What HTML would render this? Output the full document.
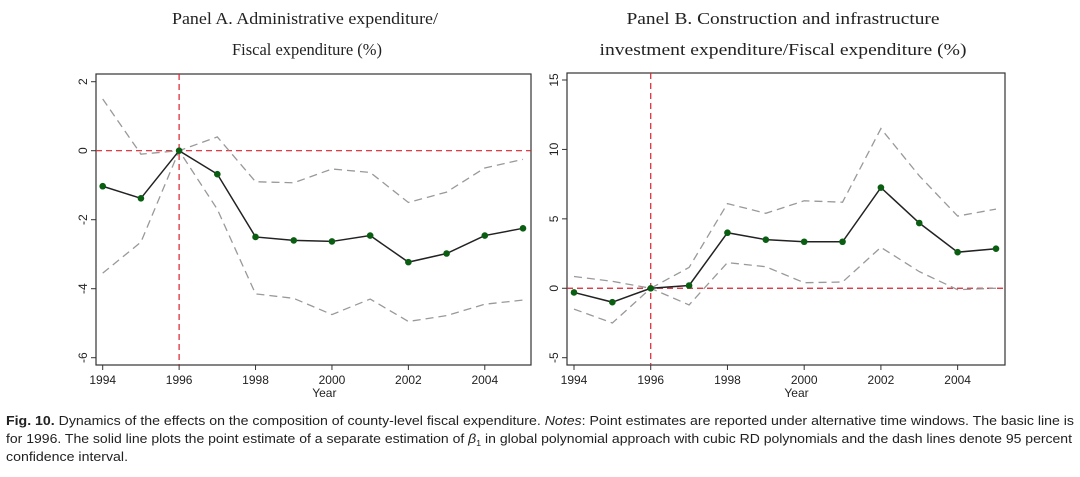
<!DOCTYPE html>
<html><head><meta charset="utf-8"><style>
html,body{margin:0;padding:0;background:#fff;width:1080px;height:477px;overflow:hidden}
svg{display:block}
</style></head><body>
<svg id="chart" width="1080" height="477" viewBox="0 0 1080 477" xmlns="http://www.w3.org/2000/svg">
<g font-family="Liberation Serif, serif" font-size="17" fill="#222">
<text x="305" y="24" text-anchor="middle" textLength="266" lengthAdjust="spacingAndGlyphs">Panel A. Administrative expenditure/</text>
<text x="307" y="55" text-anchor="middle" textLength="150" lengthAdjust="spacingAndGlyphs">Fiscal expenditure (%)</text>
<text x="783" y="24" text-anchor="middle" textLength="313" lengthAdjust="spacingAndGlyphs">Panel B. Construction and infrastructure</text>
<text x="783" y="55" text-anchor="middle" textLength="367" lengthAdjust="spacingAndGlyphs">investment expenditure/Fiscal expenditure (%)</text>
</g>
<g id="pa"></g>
<g id="pb"></g>
<g font-family="Liberation Sans, sans-serif" font-size="12.5" fill="#222">
<text x="6" y="425" textLength="1068" lengthAdjust="spacingAndGlyphs"><tspan font-weight="bold">Fig. 10.</tspan> Dynamics of the effects on the composition of county-level fiscal expenditure. <tspan font-style="italic">Notes</tspan>: Point estimates are reported under alternative time windows. The basic line is</text>
<text x="6" y="443" textLength="1066" lengthAdjust="spacingAndGlyphs">for 1996. The solid line plots the point estimate of a separate estimation of <tspan font-style="italic">β</tspan><tspan font-size="8" dy="3">1</tspan><tspan dy="-3"> in global polynomial approach with cubic RD polynomials and the dash lines denote 95 percent</tspan></text>
<text x="6" y="461" textLength="122" lengthAdjust="spacingAndGlyphs">confidence interval.</text>
</g>
</svg>
<script>
const years=[1994,1995,1996,1997,1998,1999,2000,2001,2002,2003,2004,2005];
const xTicks=[1994,1996,1998,2000,2002,2004];
const aEst=[-1.03,-1.38,0,-0.68,-2.5,-2.6,-2.63,-2.46,-3.23,-2.98,-2.46,-2.25];
const aUp=[1.5,-0.1,0,0.4,-0.9,-0.93,-0.53,-0.63,-1.5,-1.2,-0.5,-0.25];
const aLo=[-3.55,-2.65,0,-1.7,-4.15,-4.28,-4.75,-4.3,-4.95,-4.78,-4.45,-4.33];
const aTicks=[2,0,-2,-4,-6];
const bEst=[-0.3,-1,0,0.2,4,3.5,3.35,3.35,7.25,4.7,2.6,2.85];
const bUp=[0.85,0.5,0,1.5,6.1,5.4,6.3,6.2,11.5,8.1,5.2,5.7];
const bLo=[-1.5,-2.5,0,-1.2,1.85,1.55,0.4,0.45,2.95,1.2,-0.1,0];
const bTicks=[15,10,5,0,-5];
const NS="http://www.w3.org/2000/svg";
function mk(parent,tag,attrs){const e=document.createElementNS(NS,tag);for(const k in attrs)e.setAttribute(k,attrs[k]);parent.appendChild(e);return e;}
function panel(g,cfg){
  const X=v=>cfg.x0+(v-1994)*(cfg.x1-cfg.x0)/11;
  const Y=v=>cfg.yA+(v-cfg.vA)*(cfg.yB-cfg.yA)/(cfg.vB-cfg.vA);
  const box=mk(g,'rect',{x:cfg.bx0,y:cfg.by0,width:cfg.bx1-cfg.bx0,height:cfg.by1-cfg.by0,fill:'#fff',stroke:'#333','stroke-width':1.2});
  
  
  cfg.yTicks.forEach(t=>{
    const tk=mk(g,'line',{x1:cfg.bx0-5,x2:cfg.bx0,y1:Y(t),y2:Y(t),stroke:'#333'});
    
    
    const tx=mk(g,'text',{x:0,y:0,transform:`translate(${cfg.bx0-9},${Y(t)}) rotate(-90)`,'text-anchor':'middle','font-family':'Liberation Sans, sans-serif','font-size':12,fill:'#222'});
    tx.textContent=String(t);
    
    
  });
  xTicks.forEach(t=>{
    const tk=mk(g,'line',{x1:X(t),x2:X(t),y1:cfg.by1,y2:cfg.by1+5,stroke:'#333'});
    
    
    const tx=mk(g,'text',{x:X(t),y:cfg.by1+19,'text-anchor':'middle','font-family':'Liberation Sans, sans-serif','font-size':12,fill:'#222'});
    tx.textContent=String(t);
    
    
  });
  const xt=mk(g,'text',{x:X(1999.8),y:cfg.by1+32,'text-anchor':'middle','font-family':'Liberation Sans, sans-serif','font-size':12,fill:'#222'});
  xt.textContent='Year';
  
  
  const h=mk(g,'line',{x1:cfg.bx0,x2:cfg.bx1,y1:Y(0),y2:Y(0),stroke:'#d9232e','stroke-width':1.2,'stroke-dasharray':'6,4'});
  
  
  const v=mk(g,'line',{x1:X(1996),x2:X(1996),y1:cfg.by0,y2:cfg.by1,stroke:'#d9232e','stroke-width':1.2,'stroke-dasharray':'6,4'});
  
  
  const pts=a=>a.map((d,i)=>X(years[i])+','+Y(d)).join(' ');
  const up=mk(g,'polyline',{points:pts(cfg.up),fill:'none',stroke:'#999','stroke-width':1.3,'stroke-dasharray':'8,5'});
  
  
  const lo=mk(g,'polyline',{points:pts(cfg.lo),fill:'none',stroke:'#999','stroke-width':1.3,'stroke-dasharray':'8,5'});
  
  
  const est=mk(g,'polyline',{points:pts(cfg.est),fill:'none',stroke:'#222','stroke-width':1.5});
  
  
  cfg.est.forEach((d,i)=>{
    const c=mk(g,'circle',{cx:X(years[i]),cy:Y(d),r:3.3,fill:'#0a5e12'});
    
    
  });
}
panel(document.getElementById('pa'),{x0:102.7,x1:523,bx0:96,bx1:531,by0:74,by1:365,yA:81.7,vA:2,yB:357.7,vB:-6,yTicks:aTicks,est:aEst,up:aUp,lo:aLo});
panel(document.getElementById('pb'),{x0:574,x1:996,bx0:567,bx1:1005,by0:73,by1:365,yA:80,vA:15,yB:357.7,vB:-5,yTicks:bTicks,est:bEst,up:bUp,lo:bLo});
</script>
</body></html>
